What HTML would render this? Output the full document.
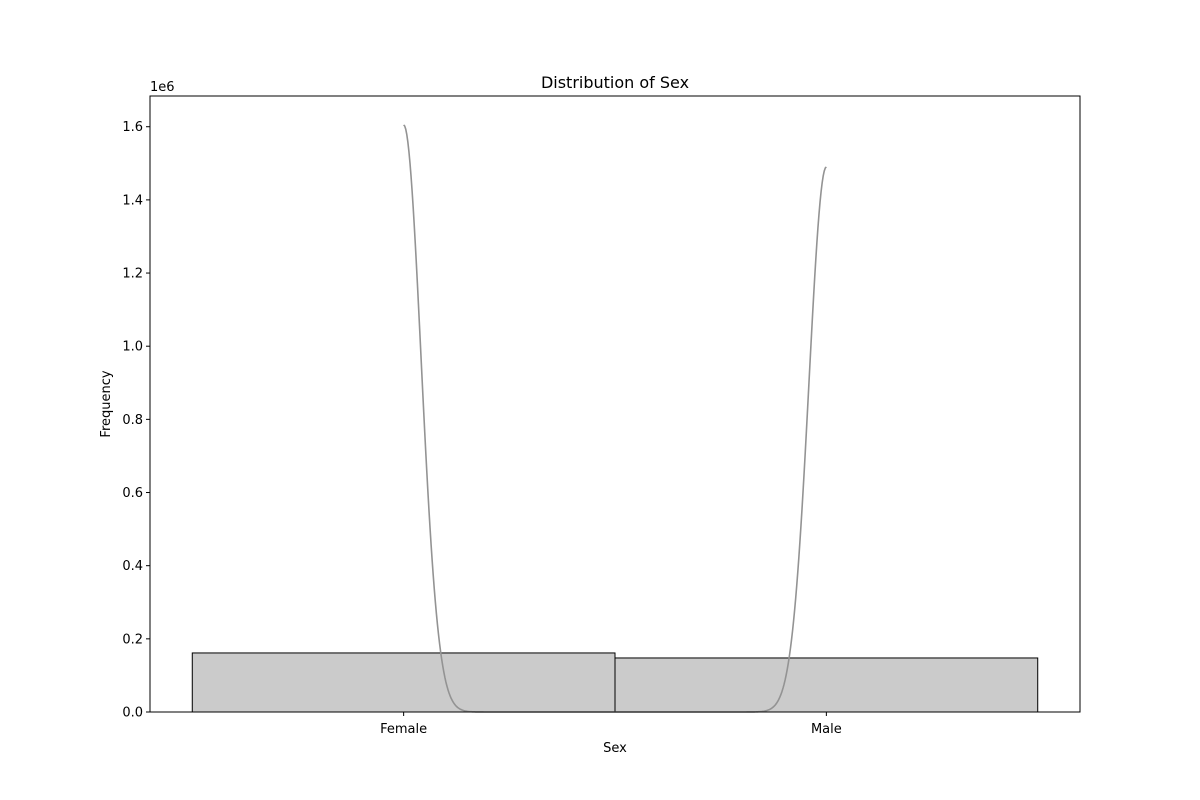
<!DOCTYPE html>
<html><head><meta charset="utf-8"><style>
body{margin:0;background:#fff;}
svg{display:block;font-family:"DejaVu Sans","Liberation Sans",sans-serif;}
</style></head><body>
<svg id="chart" width="1200" height="800"></svg>
<script>
const categories = ["Female", "Male"];
const counts = [161400, 147700];
const kdePeaks = [1605000, 1490000];
const yTicks = [0, 200000, 400000, 600000, 800000, 1000000, 1200000, 1400000, 1600000];
const yTickLabels = ["0.0","0.2","0.4","0.6","0.8","1.0","1.2","1.4","1.6"];

const NS = "http://www.w3.org/2000/svg";
const svg = document.getElementById("chart");
const L = 150, R = 1080, T = 96, B = 712;
const xMin = -0.6, xMax = 1.6, yMax = 1684000;
const xs = v => L + (v - xMin) / (xMax - xMin) * (R - L);
const ys = v => B - v / yMax * (B - T);
function mk(tag, attrs, name, text) {
  const e = document.createElementNS(NS, tag);
  for (const k in attrs) e.setAttribute(k, attrs[k]);
  
  
  if (text !== undefined) e.textContent = text;
  svg.appendChild(e);
  return e;
}
// bars
categories.forEach((c, i) => {
  const x0 = xs(i - 0.5), x1 = xs(i + 0.5);
  mk('rect', {x: x0, y: ys(counts[i]), width: x1 - x0, height: B - ys(counts[i]), fill: '#cbcbcb', stroke: '#000', 'stroke-width': 1}, 'bar-' + c.toLowerCase());
});
// kde
const sigma = 0.041;
let d = '';
for (let k = 0; k <= 400; k++) {
  const x = k / 400;
  let v = 0;
  kdePeaks.forEach((p, i) => { v += p * Math.exp(-Math.pow(x - i, 2) / (2 * sigma * sigma)); });
  d += (k ? 'L' : 'M') + xs(x).toFixed(2) + ',' + ys(v).toFixed(2);
}
mk('path', {d: d, fill: 'none', stroke: '#939393', 'stroke-width': 1.6}, 'kde-line');
// axes frame
mk('rect', {x: L, y: T, width: R - L, height: B - T, fill: 'none', stroke: '#000', 'stroke-width': 1}, 'plot-frame');
// y ticks
yTicks.forEach((t, i) => {
  const y = ys(t);
  mk('line', {x1: L - 4, x2: L, y1: y, y2: y, stroke: '#000'}, 'y-tick');
  mk('text', {x: L - 7, y: y + 4.5, 'text-anchor': 'end', 'font-size': 13}, 'y-tick-label', yTickLabels[i]);
});
// x ticks
categories.forEach((c, i) => {
  const x = xs(i);
  mk('line', {x1: x, x2: x, y1: B, y2: B + 4, stroke: '#000'}, 'x-tick');
  mk('text', {x: x, y: B + 21, 'text-anchor': 'middle', 'font-size': 13}, 'x-tick-label', c);
});
mk('text', {x: L, y: T - 5, 'font-size': 13}, 'y-offset-label', '1e6');
mk('text', {x: (L + R) / 2, y: T - 8, 'text-anchor': 'middle', 'font-size': 16}, 'chart-title', 'Distribution of Sex');
mk('text', {x: (L + R) / 2, y: B + 40, 'text-anchor': 'middle', 'font-size': 13}, 'x-axis-title', 'Sex');
mk('text', {x: 110, y: (T + B) / 2, 'text-anchor': 'middle', 'font-size': 13, transform: 'rotate(-90 110 ' + (T + B) / 2 + ')'}, 'y-axis-title', 'Frequency');
</script>
</body></html>
